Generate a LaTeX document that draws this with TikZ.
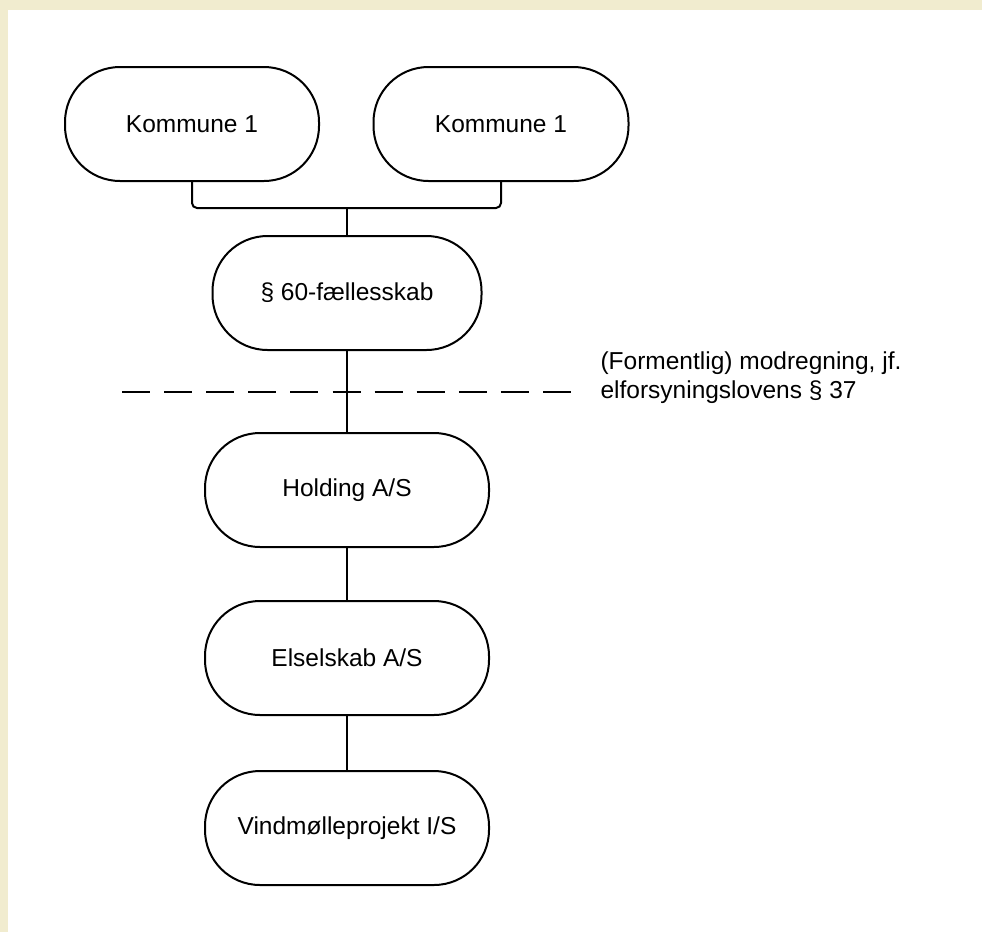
\documentclass[tikz,border=0pt]{standalone}
\usepackage{fontspec}
\setmainfont{Liberation Sans}
\usepackage{tikz}

\begin{document}
\begin{tikzpicture}[x=1pt, y=-1pt,
		unit/.style={draw, line width=2pt, rounded corners=55pt, minimum height=114pt, inner sep=0pt, align=center, font=\fontsize{24.5}{29}\selectfont},
		link/.style={line width=2pt}]
				\useasboundingbox (0, 0) rectangle (982, 932);
				\fill[fill={rgb,255:red,241;green,236;blue,207}] (0, 0) rectangle (982, 932);
				\fill[white] (8, 10) rectangle (982, 932);
				\node[unit, minimum width=254pt] (K1)at(192, 124) {Kommune 1};
				\node[unit, minimum width=255pt] (K2)at(501, 124) {Kommune 1};
				\node[unit, minimum width=269pt] (FS)at(347, 293) {§ 60-fællesskab};
				\node[unit, minimum width=284pt] (HA)at(347, 490) {Holding A/S};
				\node[unit, minimum width=284pt] (EA)at(347, 658) {Elselskab A/S};
				\node[unit, minimum width=284pt] (VP)at(347, 828) {Vindmølleprojekt I/S};
				\coordinate (J)at(347, 208);
				\coordinate (DL)at(122, 392);
				\coordinate (DR)at(572, 392);
				\node[anchor=west, align=left, font=\fontsize{24.5}{29}\selectfont] (NOTE)at(597, 378) {(Formentlig) modregning, jf.\\elforsyningslovens § 37};
				\draw[link, rounded corners=5pt] (K1.south) |- (J) -| (K2.south);
				\draw[link] (J) -- (FS.north);
				\draw[link] (FS.south) -- (HA.north);
				\draw[link] (HA.south) -- (EA.north);
				\draw[link] (EA.south) -- (VP.north);
				\draw[line width=2.6pt, dash pattern=on 28pt off 14.1pt] (DL) -- (DR);
			\end{tikzpicture}
\end{document}
